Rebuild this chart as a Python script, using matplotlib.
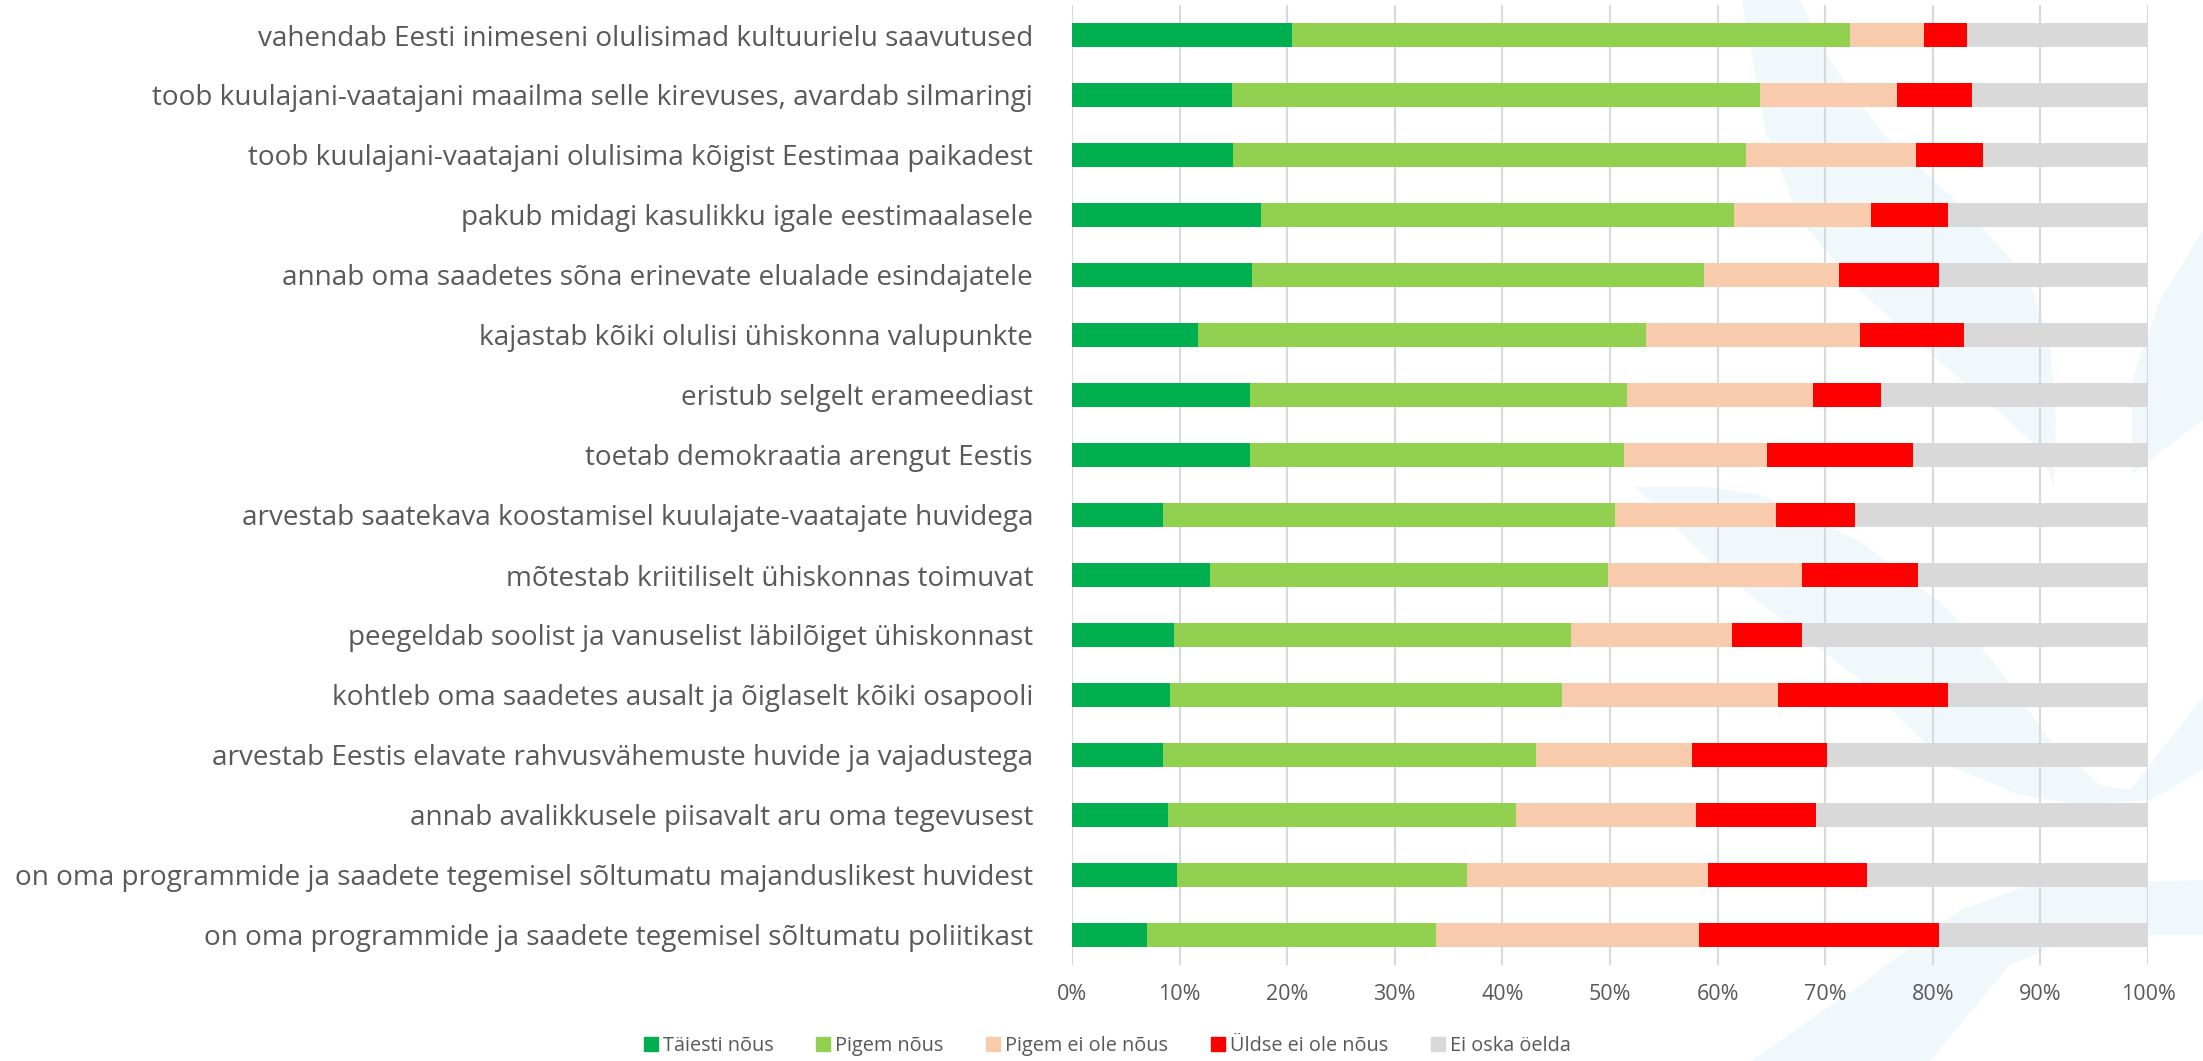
import matplotlib
matplotlib.use("Agg")
import matplotlib.pyplot as plt
from matplotlib import font_manager
from matplotlib.patches import Polygon
from matplotlib.lines import Line2D
import numpy as np

categories = [
    "vahendab Eesti inimeseni olulisimad kultuurielu saavutused",
    "toob kuulajani-vaatajani maailma selle kirevuses, avardab silmaringi",
    "toob kuulajani-vaatajani olulisima kõigist Eestimaa paikadest",
    "pakub midagi kasulikku igale eestimaalasele",
    "annab oma saadetes sõna erinevate elualade esindajatele",
    "kajastab kõiki olulisi ühiskonna valupunkte",
    "eristub selgelt erameediast",
    "toetab demokraatia arengut Eestis",
    "arvestab saatekava koostamisel kuulajate-vaatajate huvidega",
    "mõtestab kriitiliselt ühiskonnas toimuvat",
    "peegeldab soolist ja vanuselist läbilõiget ühiskonnast",
    "kohtleb oma saadetes ausalt ja õiglaselt kõiki osapooli",
    "arvestab Eestis elavate rahvusvähemuste huvide ja vajadustega",
    "annab avalikkusele piisavalt aru oma tegevusest",
    "on oma programmide ja saadete tegemisel sõltumatu majanduslikest huvidest",
    "on oma programmide ja saadete tegemisel sõltumatu poliitikast",
]
series_names = ["Täiesti nõus", "Pigem nõus", "Pigem ei ole nõus", "Üldse ei ole nõus", "Ei oska öelda"]
taiesti = [20.4, 14.9, 15.0, 17.6, 16.7, 11.7, 16.5, 16.5, 8.5, 12.8, 9.5, 9.1, 8.5, 8.9, 9.8, 7.0]
pigem = [51.9, 49.0, 47.6, 43.9, 42.0, 41.6, 35.1, 34.8, 42.0, 37.0, 36.9, 36.4, 34.6, 32.4, 26.9, 26.8]
pigem_ei = [6.9, 12.8, 15.8, 12.8, 12.6, 19.9, 17.3, 13.3, 14.9, 18.0, 14.9, 20.1, 14.5, 16.7, 22.4, 24.5]
uldse_ei = [4.0, 6.9, 6.3, 7.1, 9.3, 9.7, 6.3, 13.6, 7.4, 10.8, 6.5, 15.8, 12.6, 11.1, 14.8, 22.3]
ei_oska = [16.8, 16.4, 15.3, 18.6, 19.4, 17.1, 24.8, 21.8, 27.2, 21.4, 32.2, 18.6, 29.8, 30.9, 26.1, 19.4]
xticks = [0, 10, 20, 30, 40, 50, 60, 70, 80, 90, 100]
xticklabels = [f"{t}%" for t in xticks]

colors = ["#00B050", "#92D050", "#F8CBAD", "#FF0000", "#D9D9D9"]
text_color = "#595959"

available = {f.name for f in font_manager.fontManager.ttflist}
fam = None
for cand in ["Liberation Sans Narrow", "Open Sans", "Lato", "DejaVu Sans"]:
    if cand in available:
        fam = cand
        break
plt.rcParams["font.family"] = [fam, "DejaVu Sans"]

W, H = 2203, 1061
fig = plt.figure(figsize=(W / 100, H / 100), dpi=100)

# faint background watermark shapes (figure pixel coordinates)
def px(points):
    return [(x / W, 1 - y / H) for x, y in points]

wm = "#e4f2fb"
shapes = [
    [(1742, 0), (1800, 0), (1830, 60), (1880, 130), (1971, 215), (2029, 280), (2050, 340),
     (2056, 420), (2054, 487), (2040, 450), (1993, 406), (1920, 345), (1859, 290), (1800, 220), (1765, 130)],
    [(1635, 487), (1700, 486), (1760, 494), (1860, 541), (1948, 609), (2000, 670), (2050, 740),
     (2100, 785), (2130, 790), (2203, 697), (2203, 770), (2150, 800), (2080, 805), (2020, 795),
     (1948, 765), (1860, 680), (1724, 575)],
    [(1751, 1061), (1860, 985), (1960, 910), (2030, 885), (2203, 880), (2203, 935), (2080, 935),
     (2010, 965), (1930, 1061)],
    [(2203, 230), (2160, 300), (2132, 379), (2132, 474), (2203, 420)],
]
for s in shapes:
    fig.patches.append(Polygon(px(s), closed=True, transform=fig.transFigure,
                               facecolor=wm, edgecolor="none", alpha=0.5, zorder=0))

ax = fig.add_axes([1072 / W, 1 - 965 / H, (2148 - 1072) / W, 960 / H])
ax.set_facecolor("none")
ax.set_zorder(2)

y = np.arange(len(categories))
left = np.zeros(len(categories))
for name, vals, c in zip(series_names, [taiesti, pigem, pigem_ei, uldse_ei, ei_oska], colors):
    vals = np.array(vals, dtype=float)
    ax.barh(y, vals, left=left, height=0.4, color=c, label=name, zorder=2)
    left += vals

ax.set_xlim(0, 100)
ax.set_ylim(len(categories) - 0.5, -0.5)
ax.set_xticks(xticks)
ax.set_xticklabels(xticklabels)
ax.set_yticks(y)
ax.set_yticklabels(categories)
ax.grid(axis="x", color="#D9D9D9", linewidth=1.5, zorder=0)
ax.set_axisbelow(True)
for sp in ax.spines.values():
    sp.set_visible(False)
ax.tick_params(axis="y", length=0, pad=28, colors=text_color)
ax.tick_params(axis="x", length=0, pad=14, colors=text_color)

# fit label font size so the longest label spans ~1019 px
for lbl in ax.get_yticklabels():
    lbl.set_fontsize(18)
for lbl in ax.get_xticklabels():
    lbl.set_fontsize(14)
fig.canvas.draw()
r = fig.canvas.get_renderer()
wmax = max(l.get_window_extent(r).width for l in ax.get_yticklabels())
fs = 18 * 1019 / wmax
for lbl in ax.get_yticklabels():
    lbl.set_fontsize(fs)
w100 = ax.get_xticklabels()[-1].get_window_extent(r).width
xfs = 14 * 55 / w100
for lbl in ax.get_xticklabels():
    lbl.set_fontsize(xfs)

handles = [Line2D([0], [0], marker="s", linestyle="none", markersize=10,
                  markerfacecolor=c, markeredgecolor=c) for c in colors]
leg = fig.legend(handles, series_names, loc="center", bbox_to_anchor=(0.502, 0.014),
                 ncol=5, frameon=False, fontsize=xfs * 0.93, handletextpad=0.1,
                 columnspacing=2.0, handlelength=1.0)
for t in leg.get_texts():
    t.set_color(text_color)

fig.savefig("out.png", dpi=100)
